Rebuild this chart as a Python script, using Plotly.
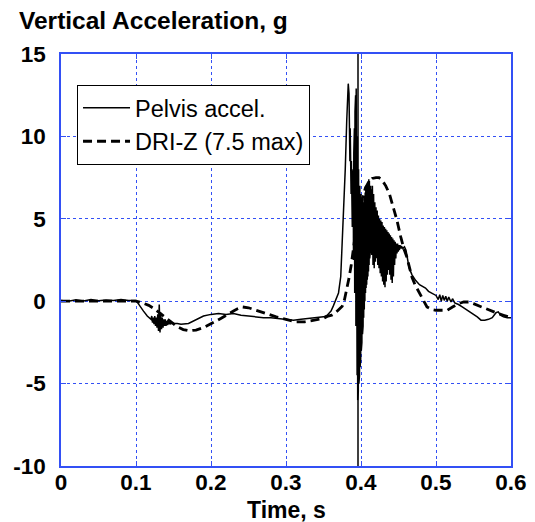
import plotly.graph_objects as go

# Pelvis vertical acceleration (g)
pelvis_t = [
    0.0, 0.01, 0.02, 0.03, 0.04, 0.05, 0.06, 0.07, 0.08, 0.09, 0.1,
    0.105, 0.11, 0.115, 0.118,
    0.120, 0.121, 0.122, 0.123, 0.124, 0.125, 0.126, 0.127, 0.128, 0.129,
    0.130, 0.131, 0.132, 0.133, 0.134, 0.135, 0.136, 0.137, 0.138, 0.139,
    0.140, 0.141, 0.142, 0.143, 0.144, 0.145, 0.146, 0.148, 0.150,
    0.155, 0.16, 0.17, 0.18, 0.19, 0.2, 0.21, 0.22, 0.23, 0.24, 0.25,
    0.26, 0.27, 0.28, 0.29, 0.30, 0.31, 0.32, 0.33, 0.34, 0.35,
    0.355, 0.36, 0.363, 0.366, 0.370, 0.373, 0.375, 0.377, 0.379, 0.381, 0.383,
    # burst, dense part
    0.3840, 0.3844, 0.3848, 0.3852, 0.3856, 0.3860, 0.3864, 0.3868, 0.3872, 0.3876,
    0.3880, 0.3884, 0.3888, 0.3892, 0.3896, 0.3900, 0.3904, 0.3908, 0.3912, 0.3916,
    0.3920, 0.3924, 0.3928, 0.3932, 0.3936, 0.3940, 0.3944, 0.3948, 0.3952, 0.3956,
    0.3960, 0.3964, 0.3968, 0.3972, 0.3976, 0.3980, 0.3984, 0.3988, 0.3992, 0.3996,
    0.4000, 0.4004, 0.4008, 0.4012, 0.4016, 0.4020, 0.4024, 0.4028, 0.4032, 0.4036,
    0.4040, 0.4044, 0.4048, 0.4052, 0.4056, 0.4060, 0.4064, 0.4068, 0.4072, 0.4076,
    0.4080, 0.4084, 0.4088, 0.4092, 0.4096, 0.4100, 0.4104, 0.4108, 0.4112, 0.4116,
    0.4120, 0.4124, 0.4128, 0.4132, 0.4136,
    # burst, decaying part
    0.4144, 0.4152, 0.4160, 0.4168, 0.4176, 0.4184, 0.4192, 0.4200, 0.4208, 0.4216,
    0.4224, 0.4232, 0.4240, 0.4248, 0.4256, 0.4264, 0.4272, 0.4280, 0.4288, 0.4296,
    0.4304, 0.4312, 0.4320, 0.4328, 0.4336, 0.4344, 0.4352, 0.4360, 0.4368, 0.4376,
    0.4384, 0.4392, 0.4400, 0.4408, 0.4416, 0.4424, 0.4432, 0.4440, 0.4448, 0.4456,
    0.4464, 0.4472, 0.4480, 0.4488, 0.4496, 0.4504, 0.4512, 0.4520, 0.4528, 0.4536,
    0.4544, 0.4552, 0.4560,
    0.458, 0.46, 0.462, 0.464, 0.468, 0.473, 0.478, 0.482, 0.486, 0.49, 0.495, 0.5,
    0.503, 0.505, 0.507, 0.509, 0.511, 0.513, 0.515, 0.517, 0.52, 0.522, 0.525,
    0.53, 0.535, 0.54, 0.545, 0.55, 0.555, 0.56, 0.565, 0.57, 0.575, 0.58,
    0.583, 0.586, 0.59, 0.595, 0.6,
]
pelvis_g = [
    0.05, 0.0, 0.08, 0.02, 0.1, 0.03, 0.08, 0.05, 0.1, 0.05, 0.05,
    -0.3, -0.6, -0.9, -1.0,
    -1.1, -0.9, -1.3, -1.0, -1.4, -0.9, -1.5, -1.0, -1.6, -0.8,
    -1.8, -0.2, -1.9, -0.7, -1.7, -1.0, -1.6, -1.1, -1.5, -1.1,
    -1.5, -1.2, -1.45, -1.2, -1.4, -1.25, -1.4, -1.3, -1.35,
    -1.35, -1.4, -1.35, -1.1, -0.9, -0.8, -0.75, -0.8, -0.75, -0.85, -0.9,
    -0.95, -1.0, -1.0, -1.05, -1.1, -1.15, -1.1, -1.05, -1.0, -0.95,
    -0.85, -0.6, -0.3, 0.0, 0.5, 1.5, 3.5, 6.0, 8.0, 11.0, 13.2,
    12.6, 9.5, 12.0, 8.5, 10.5, 7.8, 9.0, 6.5, 8.5, 5.5,
    8.0, 4.5, 7.5, 3.5, 8.0, 2.5, 9.0, 1.5, 10.5, 0.5,
    11.5, -0.5, 12.5, -1.5, 12.9, -3.0, 11.5, -4.5, 10.0, -6.0,
    9.0, -5.5, 8.0, -5.0, 7.5, -4.5, 7.0, -4.0, 6.8, -3.5,
    6.5, -3.0, 6.4, -2.5, 6.3, -2.0, 6.2, -1.5, 6.0, -1.0,
    6.2, -0.5, 6.4, 0.0, 6.6, 0.5, 6.8, 0.8, 7.0, 1.0,
    7.1, 1.3, 7.2, 1.5, 7.3, 1.8, 7.4, 2.2, 7.3, 2.6,
    7.2, 3.0, 7.0, 3.2, 6.8,
    2.8, 7.0, 2.2, 6.5, 2.0, 6.0, 2.4, 5.7, 2.6, 5.5,
    2.2, 5.2, 2.0, 5.0, 1.7, 4.9, 1.5, 4.8, 1.2, 4.6,
    1.0, 4.5, 0.85, 4.4, 1.2, 4.3, 1.6, 4.2, 1.9, 4.1,
    1.6, 4.0, 1.3, 3.9, 1.1, 3.8, 1.5, 3.7, 2.2, 3.6,
    2.6, 3.5, 2.9, 3.5, 3.0, 3.4, 3.1, 3.4, 3.2, 3.35,
    3.2, 3.3, 3.2,
    3.3, 3.1, 2.6, 2.05, 1.6, 1.25, 1.0, 0.9, 0.8, 0.6, 0.45, 0.35,
    0.1, 0.4, 0.0, 0.35, 0.05, 0.3, 0.0, 0.25, -0.05, 0.15, -0.1,
    -0.2, -0.35, -0.5, -0.6, -0.75, -0.95, -1.15, -1.15, -1.1, -1.0, -0.7,
    -0.65, -0.85, -0.95, -1.0, -1.0,
]

# Dynamic response index, Z direction (g)
dri_t = [
    0.0, 0.05, 0.1, 0.105, 0.11, 0.117, 0.124, 0.13, 0.14, 0.148, 0.155, 0.163,
    0.171, 0.18, 0.19, 0.197, 0.205, 0.213, 0.22, 0.23, 0.236, 0.242, 0.25, 0.26,
    0.27, 0.28, 0.287, 0.3, 0.313, 0.325, 0.34, 0.35, 0.356, 0.361, 0.366, 0.371,
    0.375, 0.378, 0.381, 0.384, 0.387, 0.39, 0.394, 0.398, 0.402, 0.406, 0.41,
    0.415, 0.42, 0.424, 0.428, 0.433, 0.438, 0.442, 0.445, 0.448, 0.453, 0.457,
    0.461, 0.465, 0.468, 0.472, 0.477, 0.482, 0.488, 0.494, 0.5, 0.507, 0.515,
    0.522, 0.53, 0.537, 0.544, 0.55, 0.558, 0.566, 0.573, 0.58, 0.59, 0.6,
]
dri_g = [
    0.0, 0.0, 0.0, -0.05, -0.15, -0.25, -0.45, -0.65, -1.0, -1.3, -1.55, -1.72,
    -1.8, -1.75, -1.6, -1.45, -1.25, -1.05, -0.85, -0.6, -0.45, -0.35, -0.4, -0.55,
    -0.7, -0.85, -0.95, -1.1, -1.25, -1.25, -1.15, -1.05, -0.9, -0.85, -0.7, -0.5,
    -0.3, 0.1, 0.7, 1.4, 2.2, 3.3, 4.6, 5.6, 6.3, 6.9, 7.2,
    7.45, 7.5, 7.5, 7.35, 7.0, 6.5, 5.9, 5.4, 4.9, 3.9, 3.2,
    2.7, 2.0, 1.45, 1.0, 0.55, 0.1, -0.35, -0.5, -0.55, -0.55, -0.55,
    -0.35, -0.15, -0.05, -0.05, -0.15, -0.3, -0.45, -0.6, -0.7, -0.85, -1.0,
]

clip_time = 0.396  # vertical trace line through the whole plot

x_ticks = [0, 0.1, 0.2, 0.3, 0.4, 0.5, 0.6]
x_labels = ["0", "0.1", "0.2", "0.3", "0.4", "0.5", "0.6"]
y_ticks = [-10, -5, 0, 5, 10, 15]
y_labels = ["-10", "-5", "0", "5", "10", "15"]

FONT = "Liberation Sans, Arial, sans-serif"
BLUE = "#3350f5"

# page body has an 8px margin, so the figure is 8px smaller than the window
W, H = 527, 514

fig = go.Figure()
fig.add_trace(go.Scatter(x=pelvis_t, y=pelvis_g, mode="lines", name="Pelvis accel.",
                         line=dict(color="black", width=1.5)))
fig.add_trace(go.Scatter(x=dri_t, y=dri_g, mode="lines", name="DRI-Z (7.5 max)",
                         line=dict(color="black", width=2.8, dash="9px,5px")))
fig.add_vline(x=clip_time, line=dict(color="black", width=1.5), layer="above")

axis_common = dict(
    showline=True, linecolor=BLUE, linewidth=1.5, mirror="ticks",
    ticks="inside", ticklen=5, tickcolor=BLUE, tickwidth=1.2,
    showgrid=True, gridcolor=BLUE, gridwidth=1, griddash="dot",
    zeroline=False, automargin=False,
    tickfont=dict(family=FONT, size=22.5, color="black", weight="bold"),
)

fig.update_xaxes(range=[0, 0.6], tickvals=x_ticks, ticktext=x_labels,
                 ticklabelstandoff=-5, **axis_common)
fig.update_yaxes(range=[-10, 15], tickvals=y_ticks, ticktext=y_labels,
                 ticklabelstandoff=9, **axis_common)

fig.add_annotation(text="Time, s", xref="paper", yref="paper", x=0.5, y=-0.071,
                   xanchor="center", yanchor="top", showarrow=False,
                   font=dict(family=FONT, size=23, color="black", weight="bold"))

fig.update_layout(
    width=W, height=H,
    margin=dict(l=53, r=24, t=46, b=56),
    paper_bgcolor="white", plot_bgcolor="white",
    title=dict(text="Vertical Acceleration, g", xref="container", yref="container",
               x=11 / W, xanchor="left", y=1 - 4 / H, yanchor="top",
               font=dict(family=FONT, size=24.5, color="black", weight="bold")),
    legend=dict(x=0.0356, y=0.925, xanchor="left", yanchor="top",
                bgcolor="white", bordercolor="black", borderwidth=1,
                font=dict(family=FONT, size=23.5, color="black"),
                itemwidth=47, tracegroupgap=0),
    showlegend=True,
)

fig.write_html("out.html")
